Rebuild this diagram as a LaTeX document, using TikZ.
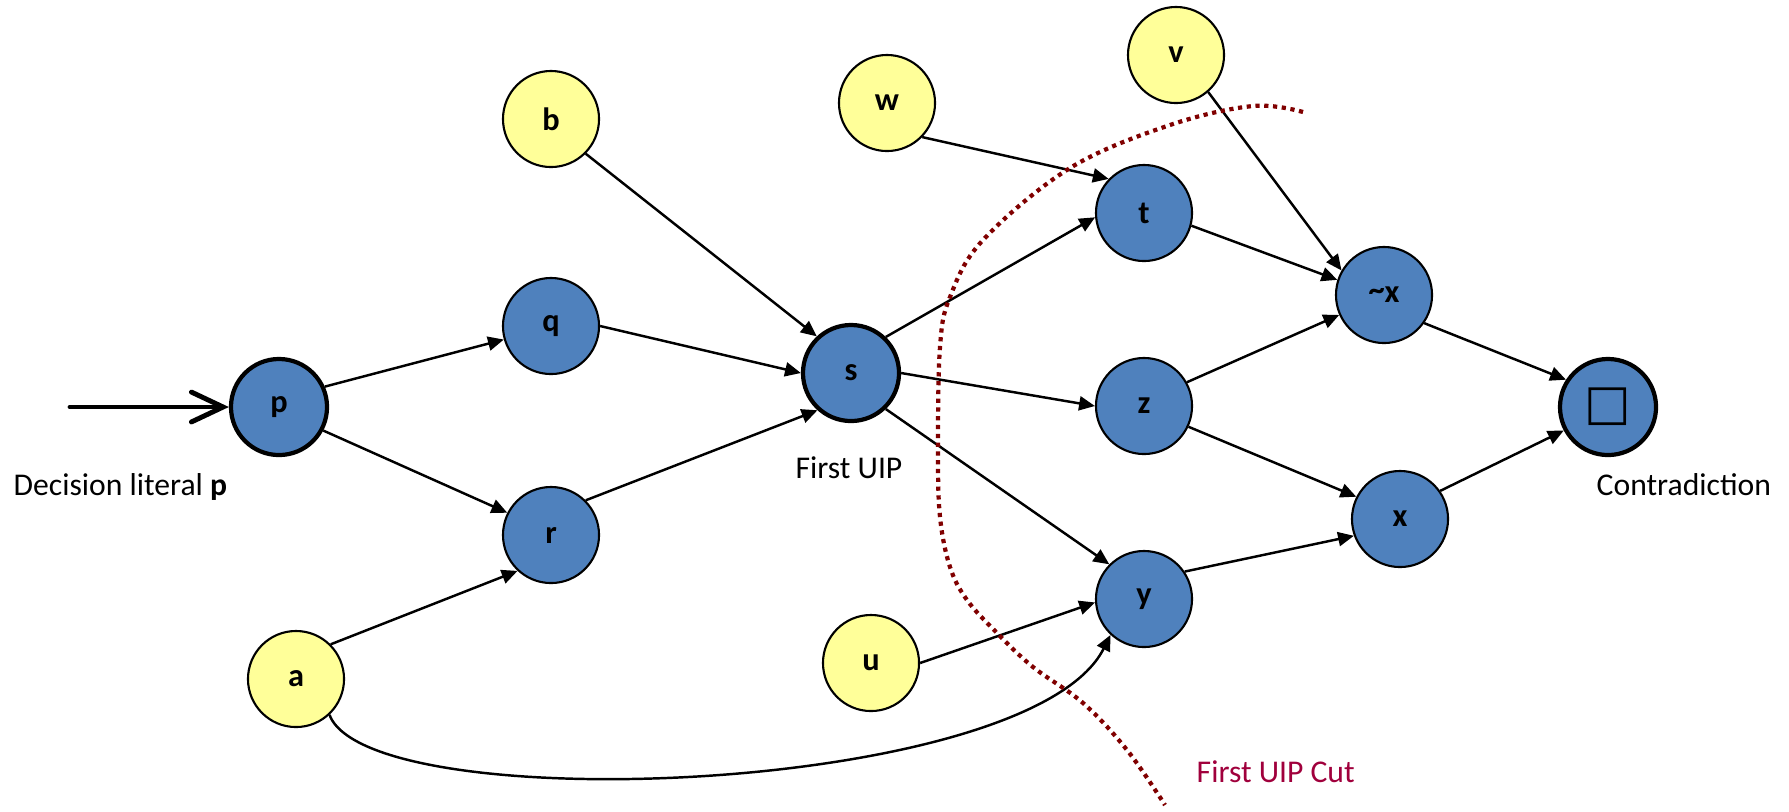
\documentclass[tikz,border=0pt]{standalone}
\usepackage{fontspec}
\setmainfont{Carlito}
\newfontfamily\symfont{DejaVu Sans}
\usetikzlibrary{arrows.meta}
\definecolor{litblue}{RGB}{79,129,189}
\definecolor{lityellow}{RGB}{255,255,153}
\definecolor{cutred}{RGB}{128,0,0}
\definecolor{cuttext}{RGB}{160,0,60}
\begin{document}
\begin{tikzpicture}[x=0.01cm,y=-0.01cm,
  font=\fontsize{9}{10}\selectfont,
  lit/.style={draw,circle,minimum size=0.96cm,inner sep=0pt,line width=0.6pt,font=\fontsize{9.2}{10}\selectfont\bfseries},
  given/.style={lit,fill=lityellow},
  implied/.style={lit,fill=litblue},
  key/.style={line width=1.2pt},
  lbl/.style={inner sep=0pt},
  impl/.style={-{Triangle[length=4.5pt,width=4pt]},line width=0.7pt}]
\useasboundingbox (0,0) rectangle (1789,811);

\node[implied,key] at (279,407) (p) {p};
\node[implied] at (551,326) (q) {q};
\node[implied] at (551,535) (r) {r};
\node[given] at (551,119) (b) {b};
\node[given] at (296,679) (a) {a};
\node[implied,key] at (851,373) (s) {s};
\node[given] at (887,103) (w) {w};
\node[given] at (871,663) (u) {u};
\node[given] at (1176,55) (v) {v};
\node[implied] at (1144,213) (t) {t};
\node[implied] at (1144,406) (z) {z};
\node[implied] at (1144,599) (y) {y};
\node[implied] at (1384,295) (nx) {\raisebox{0.15ex}{\textasciitilde}x};
\node[implied] at (1400,519) (x) {x};
\node[implied,key] at (1608,407) (k) {\symfont\fontsize{14}{14}\selectfont □};

\coordinate (dstart) at (70,407);
\node[lbl,anchor=base west] at (13,495) (declbl) {Decision literal \textbf{p}};
\node[lbl,anchor=base] at (849,478) (uiplbl) {First UIP};
\node[lbl,anchor=base west] at (1596,495) (conlbl) {Contradiction};
\node[lbl,anchor=base west,text=cuttext] at (1196,782) (cutlbl) {First UIP Cut};

\draw[line width=1.4pt,line cap=round,-{Straight Barb[length=9pt,width=8.5pt,line cap=round]}] (dstart) -- (p) ;

\draw[impl] (p.24) -- (q.196) ;
\draw[impl] (p.-28) -- (r.153) ;
\draw[impl] (a.45) -- (r.-133) ;
\draw[impl] (b.-45) -- (s.133) ;
\draw[impl] (q.east) -- (s.west) ;
\draw[impl] (r.45) -- (s.-132) ;

\draw[impl] (s.46) -- (t.185) ;
\draw[impl] (s.east) -- (z.west) ;
\draw[impl] (s.-46) -- (y.135) ;
\draw[impl] (w.-44) -- (t.136) ;
\draw[impl] (u.east) -- (y.184) ;
\draw[impl] (a.-47) .. controls (370,820) and (1030,795) .. (y.-133) ;

\draw[impl] (v.-49) -- (nx.150) ;
\draw[impl] (t.-15) -- (nx.162) ;
\draw[impl] (z.29) -- (nx.204) ;
\draw[impl] (z.-25) -- (x.153) ;
\draw[impl] (y.34) -- (x.200) ;
\draw[impl] (nx.-35) -- (k.147) ;
\draw[impl] (x.35) -- (k.208) ;

% the cut
\draw[cutred,line width=1.2pt,dash pattern=on 1.2pt off 1.3pt]
  plot[smooth,tension=0.6] coordinates {(1303,112) (1253,106) (1170,125) (1070,168) (983,240) (950,297) (940,347) (938,450) (940,517) (950,567) (967,600) (997,633) (1033,667) (1083,703) (1127,750) (1165,805)};

\end{tikzpicture}
\end{document}
